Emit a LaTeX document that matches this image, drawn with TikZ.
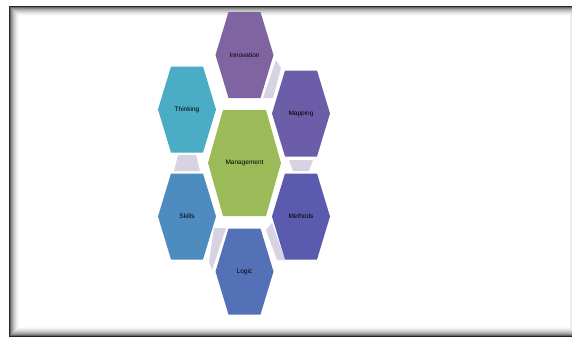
\documentclass[tikz,border=0pt]{standalone}
\usepackage{fontspec}
\setmainfont{Liberation Sans}
\definecolor{cTop}{HTML}{8064A2}
\definecolor{cUR}{HTML}{6C5DA8}
\definecolor{cLR}{HTML}{5A5AAE}
\definecolor{cBot}{HTML}{5471B8}
\definecolor{cLL}{HTML}{4E8BBF}
\definecolor{cUL}{HTML}{4BACC6}
\definecolor{cMid}{HTML}{9BBB59}
\definecolor{cLink}{HTML}{D8D3E2}
\tikzset{
  lbl/.style={font=\fontsize{6.5}{7}\selectfont, text=black, inner sep=0pt},
  linkfill/.style={fill=cLink},
}
\newcommand\hexsmall[4]{%
  \fill[#3,shift={#1}] (-29,0)--(-16,-43)--(16,-43)--(29,0)--(16,43)--(-16,43)--cycle;
  \node[lbl] (#2) at #1 {#4};}
\begin{document}
\begin{tikzpicture}[x=1pt,y=-1pt]
\useasboundingbox (0,0) rectangle (572,338);
\fill[white] (0,0) rectangle (572,338);
% frame with inner shadow
\foreach \i/\c in {0/85,1/60,2/45,3/35,4/27,5/20,6/14,7/9,8/5,9/2}{
  \draw[black!\c, line width=1pt] (9.5+\i,6.5+\i) rectangle (578-\i,336.5-\i);
}
% link shapes
\fill[linkfill] (263,98) -- (276,60) -- (281,68) -- (273,98) -- cycle;
\fill[linkfill] (178,155) -- (196,155) -- (200,171) -- (174,171) -- cycle;
\fill[linkfill] (289,160) -- (313,160) -- (309,171) -- (293,171) -- cycle;
\fill[linkfill] (214,228) -- (226,228) -- (212,270) -- (209,262) -- cycle;
\fill[linkfill] (266,230) -- (272,223) -- (285,260) -- (277,260) -- cycle;
% hexagons
\hexsmall{(244.5,55)}{top}{cTop}{Innovation}
\hexsmall{(301,113.5)}{ur}{cUR}{Mapping}
\hexsmall{(187,109.5)}{ul}{cUL}{Thinking}
\hexsmall{(187,216.5)}{ll}{cLL}{Skills}
\hexsmall{(301,216.5)}{lr}{cLR}{Methods}
\hexsmall{(244.5,271.5)}{bot}{cBot}{Logic}
\fill[cMid,shift={(244.5,163)}] (-36.5,0)--(-21.5,-53)--(21.5,-53)--(36.5,0)--(21.5,53)--(-21.5,53)--cycle;
\node[lbl] (mid) at (244.5,163) {Management};
\end{tikzpicture}
\end{document}
